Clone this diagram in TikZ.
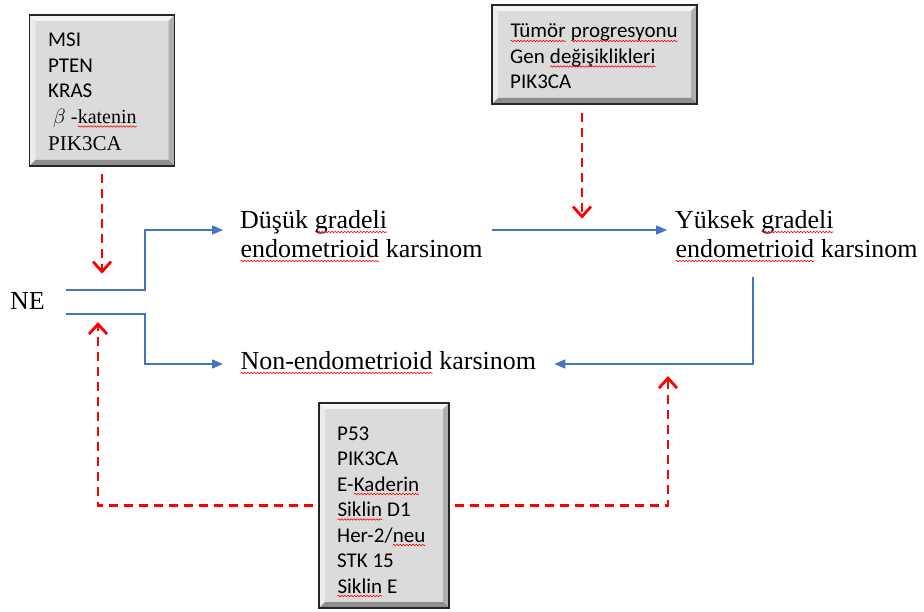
\documentclass[tikz,border=0pt]{standalone}
\usepackage{fontspec}
\setmainfont{Liberation Serif}
\newfontfamily\boxfont{Carlito}
\usetikzlibrary{arrows.meta,decorations.pathmorphing}

\definecolor{flowblue}{RGB}{68,114,196}
% red wavy underline as in the original
\newcommand\spell[1]{\tikz[baseline=(w.base)]{\node[inner sep=0pt,outer sep=0pt] (w) {#1};
  \draw[red,line width=.6pt,decorate,decoration={snake,amplitude=.7pt,segment length=3.2pt}] ([yshift=-3pt]w.base west) -- ([yshift=-3pt]w.base east);}}
\newcommand\bevelbox{%
  \fill[white,opacity=.7] (path picture bounding box.north west) -- (path picture bounding box.north east) -- ([shift={(-6pt,-6pt)}]path picture bounding box.north east) -- ([shift={(6pt,-6pt)}]path picture bounding box.north west) -- cycle;
  \fill[white,opacity=.45] (path picture bounding box.north west) -- ([shift={(6pt,-6pt)}]path picture bounding box.north west) -- ([shift={(6pt,6pt)}]path picture bounding box.south west) -- (path picture bounding box.south west) -- cycle;
  \fill[black,opacity=.35] (path picture bounding box.south west) -- ([shift={(6pt,6pt)}]path picture bounding box.south west) -- ([shift={(-6pt,6pt)}]path picture bounding box.south east) -- (path picture bounding box.south east) -- cycle;
  \fill[black,opacity=.2] (path picture bounding box.north east) -- ([shift={(-6pt,-6pt)}]path picture bounding box.north east) -- ([shift={(-6pt,6pt)}]path picture bounding box.south east) -- (path picture bounding box.south east) -- cycle;}

\begin{document}
\begin{tikzpicture}[x=1pt,y=-1pt,
  genbox/.style={draw=black!85, line width=1.4pt, fill=gray!28, inner sep=0pt, path picture={\bevelbox}},
  boxtext/.style={anchor=base west, inner sep=0pt, align=left, font=\boxfont\fontsize{21}{25.5}\selectfont},
  maintext/.style={anchor=base west, inner sep=0pt, align=left, font=\fontsize{26}{29}\selectfont},
  flow/.style={draw=flowblue, line width=1.3pt, -{Triangle[length=11pt,width=9pt]}},
  cue/.style={red, line width=2.8pt, dash pattern=on 9pt off 6pt, -{Straight Barb[length=10pt,width=18pt]}}]
\useasboundingbox (0,0) rectangle (924,612);

% gene boxes (text anchored at the baseline of the last line)
\node[genbox, minimum width=145pt, minimum height=151pt] (msibox) at (102,90.5) {};
\node[genbox, minimum width=205pt, minimum height=99pt] (tumorbox) at (594.5,54.5) {};
\node[genbox, minimum width=130pt, minimum height=205pt] (p53box) at (384,505.5) {};
\node[boxtext] (msitext) at (48,151) {MSI\\PTEN\\KRAS\\{\rmfamily\fontsize{20}{25.5}\selectfont\ $\beta$ -\spell{katenin}}\\[2pt]{\rmfamily\fontsize{21}{25.5}\selectfont PIK3CA}};
\node[boxtext] (tumortext) at (510,89) {\spell{Tümör} \spell{progresyonu}\\Gen \spell{değişiklikleri}\\PIK3CA};
\node[boxtext] (p53text) at (337,593) {P53\\PIK3CA\\E-\spell{Kaderin}\\\spell{Siklin} D1\\Her-2/\spell{neu}\\STK 15\\\spell{Siklin} E};

% tumour types
\node[maintext] (ne) at (10,310) {NE};
\node[maintext] (dusuk) at (240,258) {Düşük \spell{gradeli}\\\spell{endometrioid} karsinom};
\node[maintext] (yuksek) at (675,258) {Yüksek \spell{gradeli}\\\spell{endometrioid} karsinom};
\node[maintext] (nonendo) at (240,370) {\spell{Non-endometrioid} karsinom};

\coordinate (neup) at (66,290);
\coordinate (nelow) at (66,314);
\coordinate (yukout) at (753,277);
\draw[flow,shorten >=17pt] (neup) -| (145,230) -- (dusuk.base west |- 0,230);
\draw[flow,shorten >=17pt] (nelow) -| (145,364) -- (nonendo.base west |- 0,364);
\draw[flow,shorten <=9pt,shorten >=8pt] (dusuk.base east |- 0,230) -- (yuksek.base west |- 0,230);
\draw[flow,shorten >=18pt] (yukout) |- (nonendo.base east |- 0,364);

\draw[cue,shorten <=7pt] (msibox.south) -- ++(0,107);
\draw[cue,shorten <=8pt] ([xshift=-12.5pt]tumorbox.south) -- ++(0,114);
\draw[cue,shorten <=5pt] (p53box.west) -| (98,322);
\draw[cue,shorten <=5pt] (p53box.east) -| (668,376);
\end{tikzpicture}
\end{document}
